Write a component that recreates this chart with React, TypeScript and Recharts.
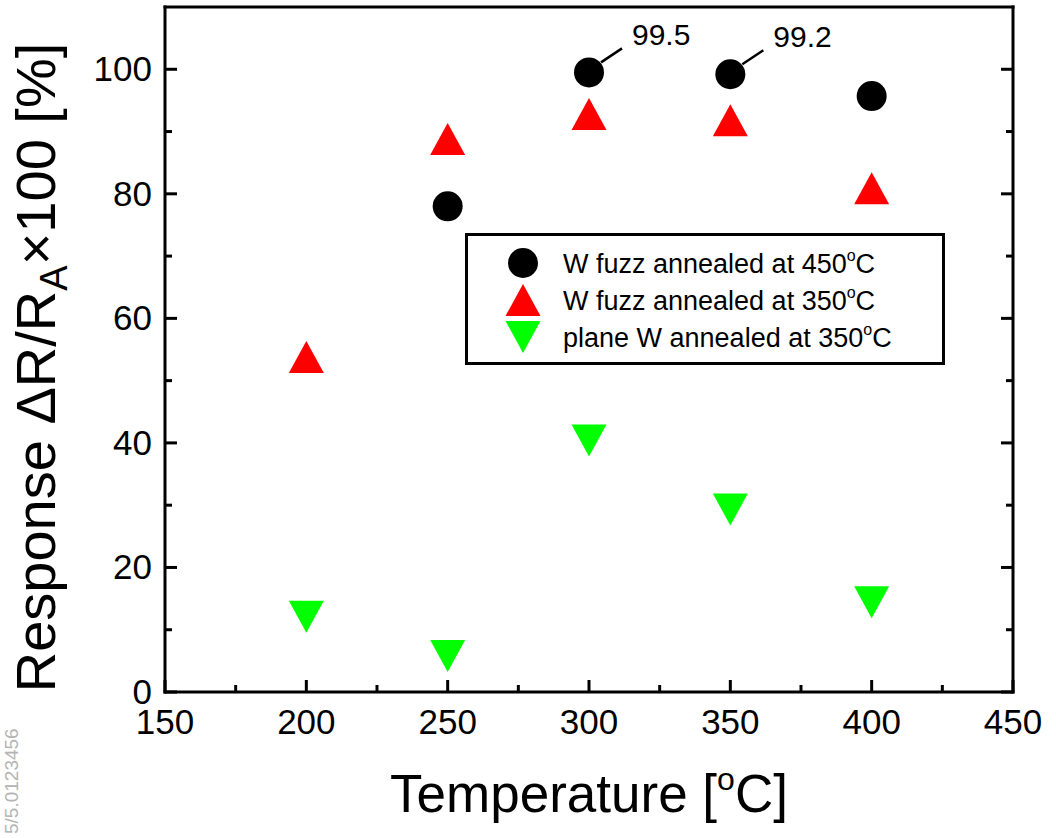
import React from 'react';
import { ScatterChart, Scatter, XAxis, YAxis, Legend } from 'recharts';

const FONT = '"Liberation Sans", Arial, Helvetica, sans-serif';

// ---- data ----
const xTicks = [150, 175, 200, 225, 250, 275, 300, 325, 350, 375, 400, 425, 450];
const yTicks = [0, 10, 20, 30, 40, 50, 60, 70, 80, 90, 100];

const fuzz450Temps = [250, 300, 350, 400];
const fuzz450Values = [78.0, 99.5, 99.2, 95.7];
const fuzz450Notes = ['', '99.5', '99.2', ''];

const fuzz350Temps = [200, 250, 300, 350, 400];
const fuzz350Values = [53.8, 88.8, 92.8, 91.8, 80.9];

const plane350Temps = [200, 250, 300, 350, 400];
const plane350Values = [12.1, 5.8, 40.4, 29.3, 14.4];

const legendLabels = ['W fuzz annealed at 450', 'W fuzz annealed at 350', 'plane W annealed at 350'];
const legendKinds = ['circle', 'up', 'down'];

const BLACK = '#000000';
const RED = '#ff0000';
const GREEN = '#00ff00';
const legendColors = [BLACK, RED, GREEN];

const fuzz450Data = fuzz450Temps.map((x, i) => ({ x, y: fuzz450Values[i], note: fuzz450Notes[i] }));
const fuzz350Data = fuzz350Temps.map((x, i) => ({ x, y: fuzz350Values[i] }));
const plane350Data = plane350Temps.map((x, i) => ({ x, y: plane350Values[i] }));

// ---- marker shapes ----
const Marker = ({ kind, cx, cy, color }: any) => {
  if (kind === 'circle') return <circle cx={cx} cy={cy} r={15} fill={color} />;
  const w = 17.5;
  const h = 16;
  if (kind === 'up')
    return <polygon points={`${cx},${cy - h} ${cx - w},${cy + h} ${cx + w},${cy + h}`} fill={color} />;
  return <polygon points={`${cx},${cy + h} ${cx - w},${cy - h} ${cx + w},${cy - h}`} fill={color} />;
};

const CircleShape = (p: any) => {
  const { cx, cy, payload } = p;
  return (
    <g>
      <Marker kind="circle" cx={cx} cy={cy} color={BLACK} />
      {payload && payload.note ? (
        <g>
          <line x1={cx + 12} y1={cy - 10} x2={cx + 33} y2={cy - 24} stroke={BLACK} strokeWidth={2.5} />
          <text x={cx + 43} y={cy - 27} fontSize={30} fontFamily={FONT} fill={BLACK}>
            {payload.note}
          </text>
        </g>
      ) : null}
    </g>
  );
};
const UpShape = (p: any) => <Marker kind="up" cx={p.cx} cy={p.cy} color={RED} />;
const DownShape = (p: any) => <Marker kind="down" cx={p.cx} cy={p.cy} color={GREEN} />;

// ---- ticks ----
const MAJ = 12;
const MIN = 7;
const TICK_FS = 35;

const BottomTick = ({ x, y, payload }: any) => {
  const major = payload.value % 50 === 0;
  return (
    <g>
      <line x1={x} x2={x} y1={y} y2={y - (major ? MAJ : MIN)} stroke={BLACK} strokeWidth={3} />
      {major ? (
        <text x={x} y={y + 42} textAnchor="middle" fontSize={TICK_FS} fontFamily={FONT} fill={BLACK}>
          {payload.value}
        </text>
      ) : null}
    </g>
  );
};
const TopTick = ({ x, y, payload }: any) => {
  const major = payload.value % 50 === 0;
  return <line x1={x} x2={x} y1={y} y2={y + (major ? MAJ : MIN)} stroke={BLACK} strokeWidth={3} />;
};
const LeftTick = ({ x, y, payload }: any) => {
  const major = payload.value % 20 === 0;
  return (
    <g>
      <line x1={x} x2={x + (major ? MAJ : MIN)} y1={y} y2={y} stroke={BLACK} strokeWidth={3} />
      {major ? (
        <text x={x - 13} y={y + 12} textAnchor="end" fontSize={TICK_FS} fontFamily={FONT} fill={BLACK}>
          {payload.value}
        </text>
      ) : null}
    </g>
  );
};
const RightTick = ({ x, y, payload }: any) => {
  const major = payload.value % 20 === 0;
  return <line x1={x} x2={x - (major ? MAJ : MIN)} y1={y} y2={y} stroke={BLACK} strokeWidth={3} />;
};

// ---- titles ----
const XTitle = (p: any) => {
  const vb = p.viewBox || { x: 165, y: 692, width: 848, height: 1 };
  return (
    <text x={vb.x + vb.width / 2} y={vb.y + 120} textAnchor="middle" fontSize={53} fontFamily={FONT} fill={BLACK}>
      Temperature [<tspan dy={-22} fontSize={32}>o</tspan>
      <tspan dy={22}>C]</tspan>
    </text>
  );
};

const YTitle = (p: any) => {
  const vb = p.viewBox || { x: 164, y: 7, width: 1, height: 685 };
  const cx = vb.x + vb.width - 110;
  const cy = vb.y + vb.height / 2 + 18;
  return (
    <g>
      <text
        x={cx}
        y={cy}
        transform={`rotate(-90 ${cx} ${cy})`}
        textAnchor="middle"
        fontSize={56}
        fontFamily={FONT}
        fill={BLACK}
      >
        Response ΔR/R<tspan dy={12} fontSize={38}>A</tspan>
        <tspan dy={-12}>×100 [%]</tspan>
      </text>
      <text
        x={18}
        y={834}
        transform={`rotate(-90 18 834)`}
        fontSize={19}
        fontFamily={FONT}
        fill="#b4b4b4"
      >
        5/5.0123456
      </text>
    </g>
  );
};

// ---- legend ----
const LegendBox = () => (
  <svg width={480} height={132} style={{ display: 'block' }}>
    <rect x={1.5} y={1.5} width={477} height={129} fill="#fff" stroke={BLACK} strokeWidth={3} />
    {legendLabels.map((lab, i) => {
      const cy = 30 + i * 37;
      return (
        <g key={lab}>
          <Marker kind={legendKinds[i]} cx={58} cy={cy} color={legendColors[i]} />
          <text x={98} y={cy + 10} fontSize={27} fontFamily={FONT} fill={BLACK}>
            {lab}
            <tspan dy={-12} fontSize={16}>o</tspan>
            <tspan dy={12}>C</tspan>
          </text>
        </g>
      );
    })}
  </svg>
);

const axisLineStyle = { stroke: BLACK, strokeWidth: 3, strokeLinecap: 'square' as const };

export default function App() {
  return (
    <div style={{ position: 'absolute', left: 0, top: 0, width: 1056, height: 838, background: '#fff', overflow: 'hidden' }}>
      <ScatterChart width={1056} height={838} margin={{ top: 6, right: 42, bottom: 145, left: 164 }}>
        <XAxis
          type="number"
          dataKey="x"
          domain={[150, 450]}
          ticks={xTicks}
          interval={0}
          height={1}
          tickSize={0}
          tickMargin={0}
          tickLine={false}
          axisLine={axisLineStyle}
          tick={(p: any) => <BottomTick {...p} />}
          label={{ content: (p: any) => <XTitle {...p} /> }}
          allowDataOverflow
        />
        <XAxis
          xAxisId="top"
          orientation="top"
          type="number"
          domain={[150, 450]}
          ticks={xTicks}
          interval={0}
          height={1}
          tickSize={0}
          tickMargin={0}
          tickLine={false}
          axisLine={axisLineStyle}
          tick={(p: any) => <TopTick {...p} />}
          allowDataOverflow
        />
        <YAxis
          type="number"
          dataKey="y"
          domain={[0, 110]}
          ticks={yTicks}
          interval={0}
          width={1}
          tickSize={0}
          tickMargin={0}
          tickLine={false}
          axisLine={axisLineStyle}
          tick={(p: any) => <LeftTick {...p} />}
          label={{ content: (p: any) => <YTitle {...p} /> }}
          allowDataOverflow
        />
        <YAxis
          yAxisId="right"
          orientation="right"
          type="number"
          domain={[0, 110]}
          ticks={yTicks}
          interval={0}
          width={1}
          tickSize={0}
          tickMargin={0}
          tickLine={false}
          axisLine={axisLineStyle}
          tick={(p: any) => <RightTick {...p} />}
          allowDataOverflow
        />
        <Legend
          layout="vertical"
          align="center"
          verticalAlign="middle"
          content={() => <LegendBox />}
          wrapperStyle={{ left: 465, top: 233, width: 480, height: 132, margin: 0 }}
        />
        <Scatter name="plane W annealed at 350°C" data={plane350Data} shape={DownShape} isAnimationActive={false} />
        <Scatter name="W fuzz annealed at 350°C" data={fuzz350Data} shape={UpShape} isAnimationActive={false} />
        <Scatter name="W fuzz annealed at 450°C" data={fuzz450Data} shape={CircleShape} isAnimationActive={false} />
      </ScatterChart>
    </div>
  );
}
